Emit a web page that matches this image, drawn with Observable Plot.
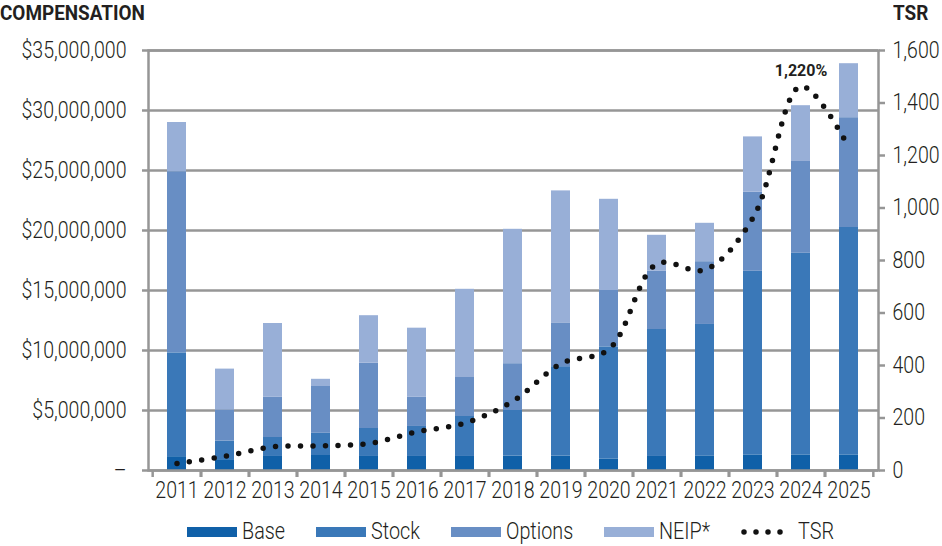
<!DOCTYPE html>
<html>
<head>
<meta charset="utf-8">
<script src="https://cdn.jsdelivr.net/npm/d3@7"></script>
<script src="https://cdn.jsdelivr.net/npm/@observablehq/plot@0.6"></script>
<style>
  body { margin: 0; background: #fff; }
  #wrap { position: relative; width: 942px; height: 546px; overflow: hidden; background: #fff;
          font-family: Roboto, "Liberation Sans", sans-serif; color: #231f20; }
  #chart { position: absolute; left: 0; top: 0; z-index: 1; }
  .ttl { position: absolute; top: 1px; z-index: 2; font-weight: bold; font-size: 21px; line-height: 24px;
         transform: scaleX(0.9); transform-origin: left center; white-space: nowrap; }
  #legend { position: absolute; top: 519px; left: 187px; z-index: 2; display: flex; align-items: center;
            font-size: 23px; font-weight: 300; line-height: 26px; white-space: nowrap; }
  .item { display: flex; align-items: center; margin-right: 31px; }
  .sw { width: 50px; height: 10px; margin-right: 5px; }
</style>
</head>
<body>
<div id="wrap">
  <div id="chart"></div>
  <div class="ttl" style="left:0px;">COMPENSATION</div>
  <div class="ttl" style="left:893px;">TSR</div>
  <div id="legend"></div>
</div>
<script>
// ---- data ----
const years   = [2011, 2012, 2013, 2014, 2015, 2016, 2017, 2018, 2019, 2020, 2021, 2022, 2023, 2024, 2025];
const base    = [1150000, 900000, 1170000, 1250000, 1170000, 1170000, 1170000, 1200000, 1200000, 940000, 1170000, 1220000, 1300000, 1300000, 1300000];
const stock   = [8650000, 1550000, 1580000, 1850000, 2330000, 2500000, 3330000, 3800000, 7450000, 9360000, 10580000, 10950000, 15300000, 16800000, 18950000];
const options = [15100000, 2600000, 3350000, 3900000, 5450000, 2430000, 3250000, 3900000, 3650000, 4700000, 4850000, 5230000, 6600000, 7650000, 9150000];
const neip    = [4100000, 3400000, 6150000, 600000, 3950000, 5760000, 7350000, 11200000, 11000000, 7600000, 3000000, 3200000, 4600000, 4650000, 4500000];
const tsr     = [27, 54, 90, 94, 103, 147, 181, 264, 407, 462, 787, 765, 962, 1464, 1230];
const seriesNames = ["Base", "Stock", "Options", "NEIP*"];
const seriesColors = ["#1060a8", "#3a78b8", "#688ec4", "#98afd7"];
const compTicks = [0, 5000000, 10000000, 15000000, 20000000, 25000000, 30000000, 35000000];
const tsrTicks = [0, 200, 400, 600, 800, 1000, 1200, 1400, 1600];
const peakLabel = "1,220%";

// ---- build tables ----
const seriesValues = [base, stock, options, neip];
const rows = years.flatMap((y, i) => seriesNames.map((s, j) => ({year: y, series: s, value: seriesValues[j][i]})));
const compMax = compTicks[compTicks.length - 1];
const tsrMax = tsrTicks[tsrTicks.length - 1];
const k = compMax / tsrMax; // maps TSR onto the compensation scale (right axis)
const tsrRows = years.map((y, i) => ({year: y, tsr: tsr[i]}));
const peak = tsrRows.reduce((a, b) => (b.tsr > a.tsr ? b : a));

const W = 942, H = 505, ML = 148, MR = 64, MT = 50, MB = 35;
const step = (W - ML - MR) / years.length;
const grid = "#969696";
const S = 0.85;   // horizontal condensing of the light axis font
const SL = 0.86;  // horizontal condensing of the legend font

const chart = Plot.plot({
  width: W, height: H,
  marginLeft: ML, marginRight: MR, marginTop: MT, marginBottom: MB,
  style: {fontFamily: "Roboto, 'Liberation Sans', sans-serif", fontSize: "23px", fontWeight: 300,
          color: "#231f20", background: "transparent", overflow: "visible"},
  x: {type: "band", domain: years, paddingInner: 0.6, paddingOuter: 0.3},
  y: {domain: [0, compMax]},
  color: {domain: seriesNames, range: seriesColors},
  marks: [
    Plot.gridY(compTicks, {stroke: grid, strokeOpacity: 1, strokeWidth: 2.5}),
    Plot.barY(rows, Plot.stackY({x: "year", y: "value", fill: "series", order: seriesNames})),
    Plot.frame({stroke: grid, strokeWidth: 2.5}),
    Plot.axisY({anchor: "left", ticks: compTicks, tickSize: 6, tickPadding: 16, label: null,
      stroke: grid, strokeWidth: 2.5,
      tickFormat: d => (d === 0 ? "–" : "$" + d3.format(",")(d))}),
    Plot.axisY({anchor: "right", ticks: tsrTicks.map(v => v * k), tickSize: 6, tickPadding: 8, label: null,
      stroke: grid, strokeWidth: 2.5,
      tickFormat: d => d3.format(",")(Math.round(d / k))}),
    Plot.axisX({tickSize: 0, tickPadding: 11, label: null, tickFormat: d => String(d)}),
    Plot.axisX({tickSize: 7, label: null, dx: -step / 2, stroke: grid, strokeWidth: 2.5, tickFormat: () => ""}),
    Plot.axisX({tickSize: 7, label: null, dx: step / 2, stroke: grid, strokeWidth: 2.5, tickFormat: () => ""}),
    Plot.line(tsrRows, {x: "year", y: d => d.tsr * k, curve: "catmull-rom",
      stroke: "#111", strokeWidth: 5.5, strokeDasharray: "0 12.5", strokeLinecap: "round"}),
    Plot.text([peak], {x: "year", y: d => d.tsr * k, text: () => peakLabel, dy: -15,
      fontWeight: "bold", fontSize: 16, fill: "#231f20"})
  ]
});
document.getElementById("chart").appendChild(chart);

// condense the axis texts horizontally around their own anchor points
chart.querySelectorAll("text").forEach(t => {
  if (t.textContent === peakLabel || t.textContent === "") return;
  let tr = t.getAttribute("transform") || "";
  if (t.hasAttribute("x")) {
    const x = parseFloat(t.getAttribute("x")) || 0;
    t.removeAttribute("x");
    tr += ` translate(${x},0)`;
  }
  t.setAttribute("transform", tr + ` scale(${S},1)`);
});

// ---- legend ----
const legend = document.getElementById("legend");
function condensedLabel(text) {
  const lab = document.createElement("span");
  lab.textContent = text;
  lab.style.display = "inline-block";
  lab.style.transform = `scaleX(${SL})`;
  lab.style.transformOrigin = "left center";
  return lab;
}
const labels = [];
seriesNames.forEach((s, j) => {
  const item = document.createElement("div");
  item.className = "item";
  const sw = document.createElement("div");
  sw.className = "sw";
  sw.style.background = seriesColors[j];
  const lab = condensedLabel(s);
  item.appendChild(sw); item.appendChild(lab);
  legend.appendChild(item);
  labels.push(lab);
});
const tItem = document.createElement("div");
tItem.className = "item";
tItem.innerHTML = '<svg width="54" height="12" style="margin-right:3px"><line x1="3" y1="6" x2="51" y2="6" stroke="#111" stroke-width="5.5" stroke-linecap="round" stroke-dasharray="0 12"/></svg>';
const tLab = condensedLabel("TSR");
tItem.appendChild(tLab);
legend.appendChild(tItem);
labels.push(tLab);
labels.forEach(l => { l.style.marginRight = (-(1 - SL) * l.offsetWidth) + "px"; });
</script>
</body>
</html>
